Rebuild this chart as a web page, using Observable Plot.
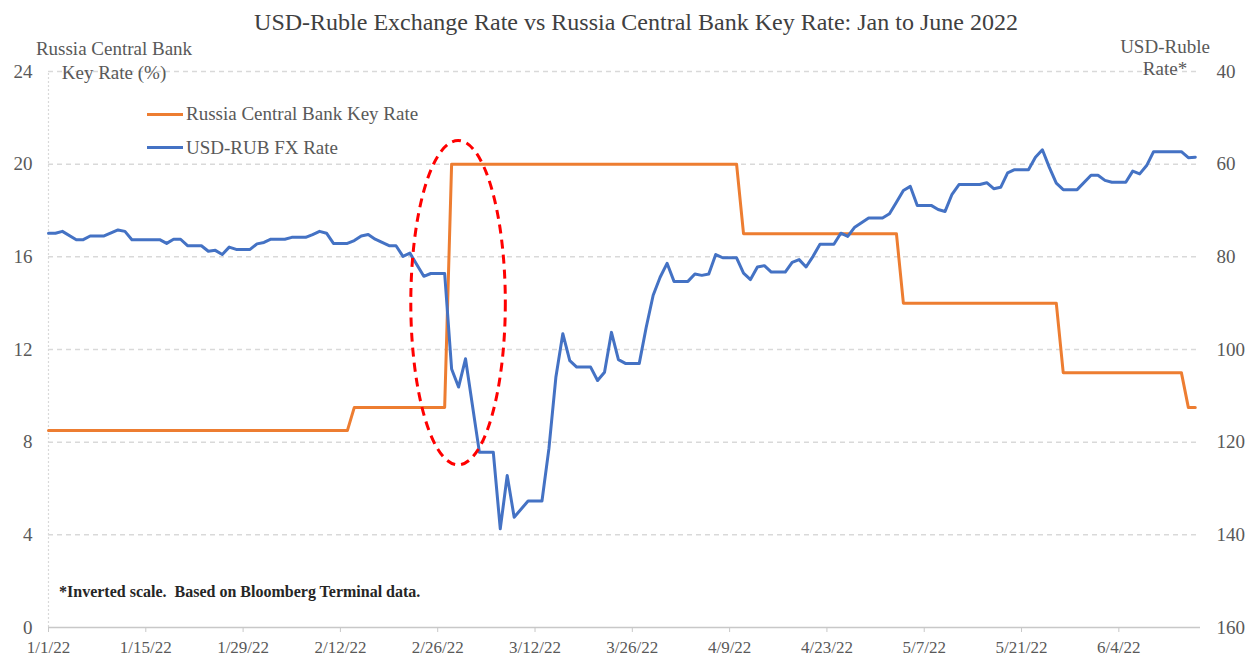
<!DOCTYPE html>
<html><head><meta charset="utf-8">
<script src="https://cdn.jsdelivr.net/npm/d3@7"></script>
<script src="https://cdn.jsdelivr.net/npm/@observablehq/plot@0.6"></script>
<style>
body{margin:0;background:#fff;font-family:"Liberation Serif","Times New Roman",serif;}
#wrap{position:relative;width:1247px;height:656px;overflow:hidden;}
#wrap svg{position:absolute;left:0;top:0;}
.t{position:absolute;white-space:nowrap;line-height:1;color:#595959;}
.c{transform:translate(-50%,-50%);}
.l{transform:translate(0,-50%);}
.sw{position:absolute;height:3px;width:36px;}
</style></head><body><div id="wrap"></div>
<script>
// ---- Data ----
const keyDates = ["2022-01-01","2022-02-13","2022-02-14","2022-02-27","2022-02-28","2022-04-10","2022-04-11","2022-05-03","2022-05-04","2022-05-26","2022-05-27","2022-06-13","2022-06-14","2022-06-15"];
const keyRates = [8.5,8.5,9.5,9.5,20,20,17,17,14,14,11,11,9.5,9.5];

const fxDates = ["2022-01-01","2022-01-02","2022-01-03","2022-01-05","2022-01-06","2022-01-07","2022-01-09","2022-01-11","2022-01-12","2022-01-13","2022-01-17","2022-01-18","2022-01-19","2022-01-20","2022-01-21","2022-01-23","2022-01-24","2022-01-25","2022-01-26","2022-01-27","2022-01-28","2022-01-30","2022-01-31","2022-02-01","2022-02-02","2022-02-04","2022-02-05","2022-02-07","2022-02-08","2022-02-09","2022-02-10","2022-02-11","2022-02-13","2022-02-14","2022-02-15","2022-02-16","2022-02-17","2022-02-19","2022-02-20","2022-02-21","2022-02-22","2022-02-24","2022-02-25","2022-02-27","2022-02-28","2022-03-01","2022-03-02","2022-03-04","2022-03-06","2022-03-07","2022-03-08","2022-03-09","2022-03-11","2022-03-13","2022-03-14","2022-03-15","2022-03-16","2022-03-17","2022-03-18","2022-03-20","2022-03-21","2022-03-22","2022-03-23","2022-03-24","2022-03-25","2022-03-27","2022-03-28","2022-03-29","2022-03-30","2022-03-31","2022-04-01","2022-04-03","2022-04-04","2022-04-05","2022-04-06","2022-04-07","2022-04-08","2022-04-10","2022-04-11","2022-04-12","2022-04-13","2022-04-14","2022-04-15","2022-04-17","2022-04-18","2022-04-19","2022-04-20","2022-04-21","2022-04-22","2022-04-24","2022-04-25","2022-04-26","2022-04-27","2022-04-29","2022-05-01","2022-05-02","2022-05-03","2022-05-04","2022-05-05","2022-05-06","2022-05-08","2022-05-09","2022-05-10","2022-05-11","2022-05-12","2022-05-15","2022-05-16","2022-05-17","2022-05-18","2022-05-19","2022-05-20","2022-05-22","2022-05-23","2022-05-24","2022-05-25","2022-05-26","2022-05-27","2022-05-29","2022-05-31","2022-06-01","2022-06-02","2022-06-03","2022-06-05","2022-06-06","2022-06-07","2022-06-08","2022-06-09","2022-06-13","2022-06-14","2022-06-15"];
const fxRates = [74.9,74.9,74.5,76.3,76.3,75.5,75.5,74.2,74.5,76.3,76.3,77.1,76.2,76.2,77.6,77.6,78.8,78.6,79.5,77.9,78.4,78.4,77.2,76.9,76.2,76.2,75.8,75.8,75.2,74.5,74.9,77.1,77.1,76.5,75.5,75.2,76.2,77.6,77.6,79.9,79.2,84.2,83.6,83.6,104.2,108.1,102.0,122.2,122.2,138.7,127.2,136.2,132.7,132.7,121.4,106.0,96.6,102.4,103.8,103.8,106.7,104.9,96.3,102.2,103.0,103.0,95.2,88.3,84.4,81.4,85.3,85.3,83.7,84.0,83.7,79.5,80.2,80.2,83.5,84.9,82.2,81.9,83.3,83.3,81.2,80.6,82.2,79.9,77.3,77.3,74.9,75.6,73.6,71.6,71.6,70.7,68.2,65.7,64.8,68.9,68.9,69.8,70.2,66.5,64.4,64.4,64.0,65.3,65.0,61.9,61.2,61.2,58.5,56.9,60.7,64.1,65.5,65.5,62.4,62.4,63.5,63.9,63.9,61.5,62.1,60.3,57.3,57.3,58.6,58.5];

const leftTicks = [0,4,8,12,16,20,24];
const rightTickLabels = [160,140,120,100,80,60,40];
const xTickDates = ["2022-01-01","2022-01-15","2022-01-29","2022-02-12","2022-02-26","2022-03-12","2022-03-26","2022-04-09","2022-04-23","2022-05-07","2022-05-21","2022-06-04"];
const xTickLabels = ["1/1/22","1/15/22","1/29/22","2/12/22","2/26/22","3/12/22","3/26/22","4/9/22","4/23/22","5/7/22","5/21/22","6/4/22"];

// annotation ellipse: centre (date, key-rate) and half extents (days, key-rate units)
const ellipseCenter = ["2022-03-01", 14.0];
const ellipseHalf = [6.8, 7.0];

// ---- Build ----
const parse = d3.utcParse("%Y-%m-%d");
// inverted right scale: 40 at 24%, 160 at 0%
const fxToLeft = r => (160 - r) / 5;
const keyData = keyDates.map((d, i) => ({date: parse(d), v: keyRates[i]}));
const fxData = fxDates.map((d, i) => ({date: parse(d), v: fxToLeft(fxRates[i])}));
const xLabelMap = new Map(xTickDates.map((d, i) => [+parse(d), xTickLabels[i]]));
const x0 = parse("2022-01-01");
const x1 = new Date(Date.UTC(2022, 5, 15, 18));

function ellipseMark(index, scales) {
  const c = parse(ellipseCenter[0]);
  const cx = scales.x(c);
  const rx = scales.x(new Date(+c + ellipseHalf[0] * 864e5)) - cx;
  const cy = scales.y(ellipseCenter[1]);
  const ry = scales.y(ellipseCenter[1] - ellipseHalf[1]) - cy;
  const e = document.createElementNS("http://www.w3.org/2000/svg", "ellipse");
  e.setAttribute("cx", cx); e.setAttribute("cy", cy);
  e.setAttribute("rx", rx); e.setAttribute("ry", ry);
  e.setAttribute("fill", "none"); e.setAttribute("stroke", "#FF0000");
  e.setAttribute("stroke-width", 3); e.setAttribute("stroke-dasharray", "9,6");
  return e;
}

const chart = Plot.plot({
  width: 1247, height: 656,
  marginLeft: 48, marginRight: 47, marginTop: 71, marginBottom: 29,
  style: {fontFamily: "'Liberation Serif','Times New Roman',serif", background: "transparent", overflow: "visible", color: "#595959"},
  x: {type: "utc", domain: [x0, x1]},
  y: {domain: [0, 24]},
  marks: [
    Plot.ruleY(leftTicks.filter(d => d > 0), {stroke: "#d9d9d9", strokeWidth: 1.5, strokeDasharray: "5,4"}),
    Plot.ruleX([x0], {y1: 0, y2: 24, stroke: "#d9d9d9", strokeWidth: 1.2, strokeDasharray: "2,2"}),
    Plot.ruleY([0], {stroke: "#c8c8c8", strokeWidth: 1.5}),
    Plot.axisX({ticks: xTickDates.map(parse), tickFormat: d => xLabelMap.get(+d), tickSize: 5, tickPadding: 8, stroke: "#c8c8c8", fill: "#595959", fontSize: 17, label: null}),
    Plot.axisY({anchor: "left", ticks: leftTicks, tickSize: 0, tickPadding: 16, fill: "#595959", fontSize: 19, label: null}),
    Plot.axisY({anchor: "right", ticks: leftTicks, tickFormat: d => rightTickLabels[leftTicks.indexOf(d)], tickSize: 0, tickPadding: 16, fill: "#595959", fontSize: 19, label: null}),
    Plot.line(keyData, {x: "date", y: "v", stroke: "#ED7D31", strokeWidth: 3}),
    Plot.line(fxData, {x: "date", y: "v", stroke: "#4472C4", strokeWidth: 3}),
    ellipseMark
  ]
});

const wrap = document.getElementById("wrap");
wrap.appendChild(chart);

function addText(txt, x, y, cls, style) {
  const d = document.createElement("div");
  d.className = "t " + cls;
  d.textContent = txt;
  d.style.left = x + "px"; d.style.top = y + "px";
  Object.assign(d.style, style || {});
  wrap.appendChild(d);
}
addText("USD-Ruble Exchange Rate vs Russia Central Bank Key Rate: Jan to June 2022", 636, 22, "c", {fontSize: "24px", color: "#404040"});
addText("Russia Central Bank", 114, 48, "c", {fontSize: "19px"});
addText("Key Rate (%)", 114, 72, "c", {fontSize: "19px"});
addText("USD-Ruble", 1165, 46, "c", {fontSize: "19px"});
addText("Rate*", 1165, 68, "c", {fontSize: "19px"});
addText("Russia Central Bank Key Rate", 186, 113, "l", {fontSize: "19px"});
addText("USD-RUB FX Rate", 186, 147, "l", {fontSize: "19px"});
addText("*Inverted scale.\u00a0 Based on Bloomberg Terminal data.", 59, 592, "l", {fontSize: "16px", fontWeight: "bold", color: "#262626"});

function addSwatch(color, x, y) {
  const s = document.createElement("div");
  s.className = "sw";
  s.style.left = x + "px"; s.style.top = (y - 1.5) + "px"; s.style.background = color;
  wrap.appendChild(s);
}
addSwatch("#ED7D31", 147, 114);
addSwatch("#4472C4", 147, 147);
</script>
</body></html>
